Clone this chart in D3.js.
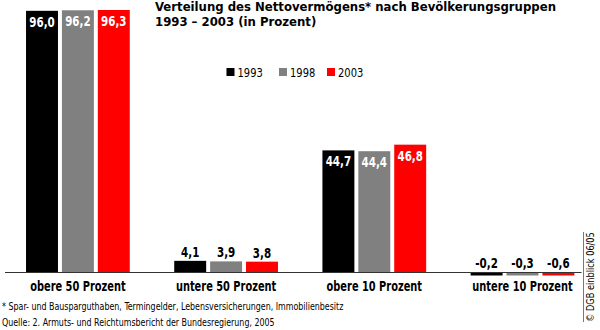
<!DOCTYPE html>
<html>
<head>
<meta charset="utf-8">
<script src="https://cdn.jsdelivr.net/npm/d3@7"></script>
<style>
  html, body { margin: 0; padding: 0; background: #fff; }
  svg { display: block; }
  text { font-family: 'DejaVu Sans Condensed', 'DejaVu Sans', 'Open Sans', sans-serif; }
</style>
</head>
<body>
<svg id="chart" width="600" height="330"></svg>
<script>
// ---- data ----
const categories = ["obere 50 Prozent", "untere 50 Prozent", "obere 10 Prozent", "untere 10 Prozent"];
const years = ["1993", "1998", "2003"];
const values1993 = [96.0, 4.1, 44.7, -0.2];
const values1998 = [96.2, 3.9, 44.4, -0.3];
const values2003 = [96.3, 3.8, 46.8, -0.6];
const seriesColors = ["#000000", "#808080", "#ff0000"];
const titleLines = ["Verteilung des Nettovermögens* nach Bevölkerungsgruppen", "1993 – 2003 (in Prozent)"];
const footnotes = ["* Spar- und Bausparguthaben, Termingelder, Lebensversicherungen, Immobilienbesitz",
                   "Quelle: 2. Armuts- und Reichtumsbericht der Bundesregierung, 2005"];
const credit = "© DGB einblick 06/05";

const series = [values1993, values1998, values2003];

// ---- layout ----
const svg = d3.select("#chart");
const baseY = 272, topY = 10;
const locale = d3.formatLocale({decimal: ",", thousands: ".", grouping: [3], currency: ["", " €"], minus: "-"});
const fmt = locale.format(".1f");

// narrow the rendered glyphs horizontally (the original uses a condensed face)
function condense(sel, f) {
  sel.each(function () {
    const w = this.getComputedTextLength();
    d3.select(this).attr("textLength", w * f).attr("lengthAdjust", "spacingAndGlyphs");
  });
}

const x0 = d3.scaleBand().domain(categories).range([3.8, 596.6]).paddingInner(0.3).paddingOuter(0.15);
const x1 = d3.scaleBand().domain(years).range([0, x0.bandwidth()]).paddingInner(0.11).paddingOuter(0);
const yMax = d3.max(series.flat());
const y = d3.scaleLinear().domain([0, yMax]).range([baseY, topY]);
const color = d3.scaleOrdinal().domain(years).range(seriesColors);

const rows = categories.map((c, i) => ({cat: c, vals: years.map((yr, j) => ({year: yr, v: series[j][i]}))}));

// bars
const g = svg.append("g");
const groups = g.selectAll("g.grp").data(rows).join("g")
  .attr("transform", d => `translate(${x0(d.cat)},0)`);

groups.selectAll("rect").data(d => d.vals).join("rect")
  .attr("x", d => x1(d.year))
  .attr("width", x1.bandwidth())
  .attr("y", d => d.v >= 0 ? y(d.v) : baseY)
  .attr("height", d => d.v >= 0 ? y(0) - y(d.v) : Math.max(3.5, y(d.v) - y(0)))
  .attr("fill", d => color(d.year));

// value labels
groups.selectAll("text.val").data(d => d.vals).join("text")
  .attr("class", "val")
  .attr("x", d => x1(d.year) + x1.bandwidth() / 2)
  .attr("y", d => d.v > 20 ? y(d.v) + 16 : y(Math.max(0, d.v)) - 4)
  .attr("text-anchor", "middle")
  .attr("font-weight", "bold")
  .attr("font-size", 13.5)
  .attr("fill", d => d.v > 20 ? "#fff" : "#000")
  .text(d => fmt(d.v))
  .call(condense, 0.85);

// baseline
svg.append("line")
  .attr("x1", 5).attr("x2", 581.5)
  .attr("y1", baseY + 0.5).attr("y2", baseY + 0.5)
  .attr("stroke", "#333").attr("stroke-width", 1);

// category labels
svg.selectAll("text.cat").data(categories).join("text")
  .attr("class", "cat")
  .attr("x", d => x0(d) + x0.bandwidth() / 2)
  .attr("y", 291)
  .attr("text-anchor", "middle")
  .attr("font-weight", "bold")
  .attr("font-size", 13.5)
  .attr("fill", "#000")
  .text(d => d)
  .call(condense, 0.81);

// title
svg.selectAll("text.title").data(titleLines).join("text")
  .attr("class", "title")
  .attr("x", 155)
  .attr("y", (d, i) => 10.5 + i * 15)
  .attr("font-weight", "bold")
  .attr("font-size", 13)
  .attr("fill", "#000")
  .text(d => d);

// legend
const legendX = [226.5, 279, 327];
const lg = svg.selectAll("g.leg").data(years).join("g")
  .attr("class", "leg")
  .attr("transform", (d, i) => `translate(${legendX[i]},68)`);
lg.append("rect").attr("width", 8).attr("height", 8).attr("fill", d => color(d));
lg.append("text").attr("x", 11).attr("y", 8.5).attr("font-size", 13).attr("fill", "#000").text(d => d)
  .call(condense, 0.85);

// footnotes
svg.selectAll("text.foot").data(footnotes).join("text")
  .attr("class", "foot")
  .attr("x", 2)
  .attr("y", (d, i) => 310 + i * 15.5)
  .attr("font-size", 11)
  .attr("fill", "#000")
  .text(d => d)
  .call(condense, 0.80);

// credit
svg.append("line")
  .attr("x1", 583.5).attr("x2", 583.5).attr("y1", 232).attr("y2", 322)
  .attr("stroke", "#555").attr("stroke-width", 0.8);
svg.append("text")
  .attr("transform", "translate(593.5,277) rotate(-90)")
  .attr("text-anchor", "middle")
  .attr("font-size", 11)
  .attr("fill", "#000")
  .text(credit)
  .call(condense, 0.83);
</script>
</body>
</html>
